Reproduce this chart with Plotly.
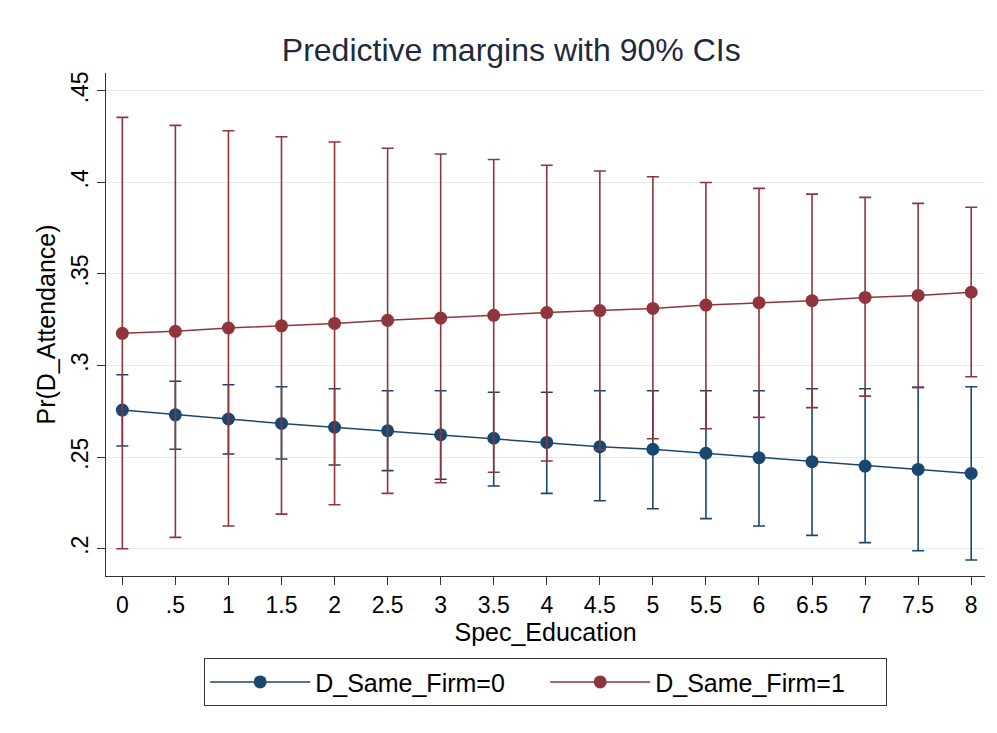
import plotly.graph_objects as go

spec_education = [0, 0.5, 1, 1.5, 2, 2.5, 3, 3.5, 4, 4.5, 5, 5.5, 6, 6.5, 7, 7.5, 8]
x_tick_labels = ["0", ".5", "1", "1.5", "2", "2.5", "3", "3.5", "4", "4.5", "5", "5.5", "6", "6.5", "7", "7.5", "8"]
y_tick_values = [0.2, 0.25, 0.3, 0.35, 0.4, 0.45]
y_tick_labels = [".2", ".25", ".3", ".35", ".4", ".45"]

firm0_margin = [0.2757, 0.2731, 0.2708, 0.2684, 0.2663, 0.2644, 0.2622, 0.2603, 0.2580, 0.2557,
                0.2543, 0.2521, 0.2497, 0.2475, 0.2451, 0.2433, 0.2411]
firm0_lower = [0.2561, 0.2543, 0.2517, 0.2490, 0.2457, 0.2426, 0.2379, 0.2342, 0.2302, 0.2262,
               0.2218, 0.2164, 0.2124, 0.2073, 0.2033, 0.1989, 0.1938]
firm0_upper = [0.2950, 0.2914, 0.2895, 0.2884, 0.2873, 0.2862, 0.2862, 0.2854, 0.2854, 0.2862,
               0.2862, 0.2862, 0.2862, 0.2873, 0.2873, 0.2881, 0.2884]

firm1_margin = [0.3176, 0.3187, 0.3205, 0.3217, 0.3230, 0.3247, 0.3259, 0.3274, 0.3289, 0.3300,
                0.3312, 0.3330, 0.3343, 0.3354, 0.3372, 0.3383, 0.3400]
firm1_lower = [0.2000, 0.2062, 0.2124, 0.2189, 0.2240, 0.2302, 0.2360, 0.2417, 0.2479, 0.2540,
               0.2600, 0.2655, 0.2717, 0.2770, 0.2833, 0.2881, 0.2939]
firm1_upper = [0.4355, 0.4311, 0.4282, 0.4249, 0.4220, 0.4186, 0.4155, 0.4125, 0.4093, 0.4062,
               0.4031, 0.3999, 0.3967, 0.3936, 0.3918, 0.3885, 0.3864]

series_names = ["D_Same_Firm=0", "D_Same_Firm=1"]
BLUE = "#1a476f"
RED = "#90353b"
FONT = "Liberation Sans, Arial, sans-serif"

fig = go.Figure()

for name, mean, lo, hi, col in [
    (series_names[0], firm0_margin, firm0_lower, firm0_upper, BLUE),
    (series_names[1], firm1_margin, firm1_lower, firm1_upper, RED),
]:
    fig.add_trace(go.Scatter(
        x=spec_education, y=mean, name=name, mode="lines+markers",
        line=dict(color=col, width=1.5),
        marker=dict(color=col, size=13),
        error_y=dict(
            type="data", symmetric=False,
            array=[h - m for h, m in zip(hi, mean)],
            arrayminus=[m - l for m, l in zip(mean, lo)],
            color=col, thickness=1.6, width=6,
        ),
    ))

fig.update_layout(
    width=997, height=733,
    margin=dict(l=106, r=12, t=73, b=157),
    paper_bgcolor="white", plot_bgcolor="white",
    font=dict(family=FONT, color="#000000"),
    title=dict(text="Predictive margins with 90% CIs", x=0.461, xref="paper", xanchor="center",
               y=1 - 50 / 733, yanchor="middle", yref="container",
               font=dict(size=32, color="#1e2a3c", family=FONT)),
    showlegend=True,
    legend=dict(orientation="h", x=0.5, xanchor="center", y=-0.163, yanchor="top",
                bordercolor="#333333", borderwidth=1.2, bgcolor="white",
                font=dict(size=25, family=FONT, color="#000"),
                itemwidth=100, entrywidth=225, entrywidthmode="pixels",
                itemclick=False),
)

fig.update_xaxes(
    range=[-0.154, 8.13], tickmode="array", tickvals=spec_education, ticktext=x_tick_labels,
    showline=True, linecolor="#333333", linewidth=1.3, mirror=False,
    ticks="outside", ticklen=8, tickwidth=1.2, tickcolor="#333333",
    showgrid=False, zeroline=False,
    tickfont=dict(size=23, family=FONT, color="#000"),
    title=dict(text="Spec_Education", font=dict(size=25, family=FONT, color="#000"), standoff=2),
)
fig.update_yaxes(
    range=[0.1851, 0.4597], tickmode="array", tickvals=y_tick_values, ticktext=y_tick_labels,
    tickangle=-90,
    showline=True, linecolor="#333333", linewidth=1.3, mirror=False,
    ticks="outside", ticklen=8, tickwidth=1.2, tickcolor="#333333",
    showgrid=True, gridcolor="#e8e8e8", gridwidth=1, zeroline=False,
    tickfont=dict(size=23, family=FONT, color="#000"),
    title=dict(text="Pr(D_Attendance)", font=dict(size=25, family=FONT, color="#000"), standoff=3),
)

fig.write_html("out.html")
